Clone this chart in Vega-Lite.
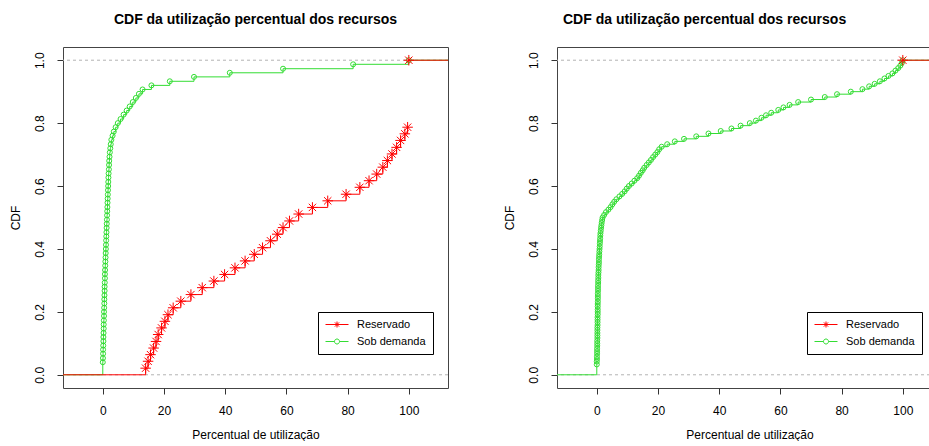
{
  "$schema": "https://vega.github.io/schema/vega-lite/v6.json",
  "background": "white",
  "padding": {"left": 8, "top": 12, "right": 0, "bottom": 0},
  "spacing": 53,
  "config": {
    "view": {"stroke": "#444", "strokeWidth": 1},
    "font": "Liberation Sans",
    "axis": {"domain": false, "grid": false, "tickColor": "#333", "tickSize": 6, "labelFont": "Liberation Sans", "labelFontSize": 12, "labelColor": "black", "titleFont": "Liberation Sans", "titleFontSize": 12, "titleFontWeight": "normal", "titleColor": "black", "labelPadding": 11},
    "title": {"font": "Liberation Sans", "fontSize": 14, "fontWeight": "bold", "color": "black", "offset": 20, "frame": "group"}
  },
  "resolve": {"scale": {"color": "independent"}, "legend": {"color": "independent"}},
  "datasets": {
    "left": [
      {"s": "Sob demanda", "x": -20, "y": 0, "ext": 1},
      {"s": "Sob demanda", "x": 0.0, "y": 0.040}, {"s": "Sob demanda", "x": 0.05, "y": 0.053}, {"s": "Sob demanda", "x": 0.1, "y": 0.067}, {"s": "Sob demanda", "x": 0.1, "y": 0.080},
      {"s": "Sob demanda", "x": 0.15, "y": 0.093}, {"s": "Sob demanda", "x": 0.2, "y": 0.107}, {"s": "Sob demanda", "x": 0.2, "y": 0.120}, {"s": "Sob demanda", "x": 0.25, "y": 0.133},
      {"s": "Sob demanda", "x": 0.3, "y": 0.147}, {"s": "Sob demanda", "x": 0.3, "y": 0.160}, {"s": "Sob demanda", "x": 0.35, "y": 0.173}, {"s": "Sob demanda", "x": 0.4, "y": 0.187},
      {"s": "Sob demanda", "x": 0.4, "y": 0.200}, {"s": "Sob demanda", "x": 0.45, "y": 0.213}, {"s": "Sob demanda", "x": 0.5, "y": 0.227}, {"s": "Sob demanda", "x": 0.5, "y": 0.240},
      {"s": "Sob demanda", "x": 0.55, "y": 0.253}, {"s": "Sob demanda", "x": 0.6, "y": 0.267}, {"s": "Sob demanda", "x": 0.6, "y": 0.280}, {"s": "Sob demanda", "x": 0.65, "y": 0.293},
      {"s": "Sob demanda", "x": 0.7, "y": 0.307}, {"s": "Sob demanda", "x": 0.7, "y": 0.320}, {"s": "Sob demanda", "x": 0.75, "y": 0.333}, {"s": "Sob demanda", "x": 0.8, "y": 0.347},
      {"s": "Sob demanda", "x": 0.85, "y": 0.360}, {"s": "Sob demanda", "x": 0.9, "y": 0.373}, {"s": "Sob demanda", "x": 0.95, "y": 0.387}, {"s": "Sob demanda", "x": 1.0, "y": 0.400},
      {"s": "Sob demanda", "x": 1.05, "y": 0.413}, {"s": "Sob demanda", "x": 1.1, "y": 0.427}, {"s": "Sob demanda", "x": 1.15, "y": 0.440}, {"s": "Sob demanda", "x": 1.2, "y": 0.453},
      {"s": "Sob demanda", "x": 1.25, "y": 0.467}, {"s": "Sob demanda", "x": 1.3, "y": 0.480}, {"s": "Sob demanda", "x": 1.35, "y": 0.493}, {"s": "Sob demanda", "x": 1.4, "y": 0.507},
      {"s": "Sob demanda", "x": 1.45, "y": 0.520}, {"s": "Sob demanda", "x": 1.5, "y": 0.533}, {"s": "Sob demanda", "x": 1.55, "y": 0.547}, {"s": "Sob demanda", "x": 1.6, "y": 0.560},
      {"s": "Sob demanda", "x": 1.65, "y": 0.573}, {"s": "Sob demanda", "x": 1.7, "y": 0.587}, {"s": "Sob demanda", "x": 1.75, "y": 0.600}, {"s": "Sob demanda", "x": 1.8, "y": 0.613},
      {"s": "Sob demanda", "x": 1.85, "y": 0.627}, {"s": "Sob demanda", "x": 1.9, "y": 0.640}, {"s": "Sob demanda", "x": 2.0, "y": 0.653}, {"s": "Sob demanda", "x": 2.05, "y": 0.667},
      {"s": "Sob demanda", "x": 2.1, "y": 0.680}, {"s": "Sob demanda", "x": 2.2, "y": 0.693}, {"s": "Sob demanda", "x": 2.3, "y": 0.707}, {"s": "Sob demanda", "x": 2.45, "y": 0.720},
      {"s": "Sob demanda", "x": 2.6, "y": 0.733}, {"s": "Sob demanda", "x": 2.8, "y": 0.747}, {"s": "Sob demanda", "x": 3.2, "y": 0.760}, {"s": "Sob demanda", "x": 3.6, "y": 0.773},
      {"s": "Sob demanda", "x": 4.2, "y": 0.787}, {"s": "Sob demanda", "x": 4.9, "y": 0.800}, {"s": "Sob demanda", "x": 5.8, "y": 0.813}, {"s": "Sob demanda", "x": 6.8, "y": 0.827},
      {"s": "Sob demanda", "x": 7.8, "y": 0.840}, {"s": "Sob demanda", "x": 8.8, "y": 0.853}, {"s": "Sob demanda", "x": 9.8, "y": 0.867}, {"s": "Sob demanda", "x": 10.8, "y": 0.880},
      {"s": "Sob demanda", "x": 11.8, "y": 0.893}, {"s": "Sob demanda", "x": 13.0, "y": 0.907}, {"s": "Sob demanda", "x": 15.9, "y": 0.920}, {"s": "Sob demanda", "x": 21.9, "y": 0.933},
      {"s": "Sob demanda", "x": 29.8, "y": 0.947}, {"s": "Sob demanda", "x": 41.5, "y": 0.960}, {"s": "Sob demanda", "x": 58.9, "y": 0.973}, {"s": "Sob demanda", "x": 81.8, "y": 0.987},
      {"s": "Sob demanda", "x": 100, "y": 1.0},
      {"s": "Sob demanda", "x": 120, "y": 1.0, "ext": 1},
      {"s": "Reservado", "x": -20, "y": 0, "ext": 1},
      {"s": "Reservado", "x": 14.0, "y": 0.021}, {"s": "Reservado", "x": 14.8, "y": 0.043}, {"s": "Reservado", "x": 15.6, "y": 0.064}, {"s": "Reservado", "x": 16.6, "y": 0.085},
      {"s": "Reservado", "x": 17.4, "y": 0.106}, {"s": "Reservado", "x": 18.1, "y": 0.128}, {"s": "Reservado", "x": 19.2, "y": 0.149}, {"s": "Reservado", "x": 20.3, "y": 0.170},
      {"s": "Reservado", "x": 21.3, "y": 0.191}, {"s": "Reservado", "x": 23.0, "y": 0.213}, {"s": "Reservado", "x": 25.5, "y": 0.234}, {"s": "Reservado", "x": 28.8, "y": 0.255},
      {"s": "Reservado", "x": 32.5, "y": 0.277}, {"s": "Reservado", "x": 36.3, "y": 0.298}, {"s": "Reservado", "x": 39.8, "y": 0.319}, {"s": "Reservado", "x": 43.2, "y": 0.340},
      {"s": "Reservado", "x": 46.5, "y": 0.362}, {"s": "Reservado", "x": 49.5, "y": 0.383}, {"s": "Reservado", "x": 52.2, "y": 0.404}, {"s": "Reservado", "x": 54.8, "y": 0.426},
      {"s": "Reservado", "x": 57.0, "y": 0.447}, {"s": "Reservado", "x": 58.9, "y": 0.468}, {"s": "Reservado", "x": 61.0, "y": 0.489}, {"s": "Reservado", "x": 64.0, "y": 0.511},
      {"s": "Reservado", "x": 68.5, "y": 0.532}, {"s": "Reservado", "x": 73.5, "y": 0.553}, {"s": "Reservado", "x": 79.5, "y": 0.574}, {"s": "Reservado", "x": 84.0, "y": 0.596},
      {"s": "Reservado", "x": 87.0, "y": 0.617}, {"s": "Reservado", "x": 89.5, "y": 0.638}, {"s": "Reservado", "x": 91.5, "y": 0.660}, {"s": "Reservado", "x": 93.0, "y": 0.681},
      {"s": "Reservado", "x": 94.5, "y": 0.702}, {"s": "Reservado", "x": 96.0, "y": 0.723}, {"s": "Reservado", "x": 97.3, "y": 0.745}, {"s": "Reservado", "x": 98.7, "y": 0.766},
      {"s": "Reservado", "x": 99.6, "y": 0.787},
      {"s": "Reservado", "x": 100, "y": 1.0, "g": 2},
      {"s": "Reservado", "x": 120, "y": 1.0, "ext": 1, "g": 2}
    ],
    "right": [
      {"s": "Sob demanda", "x": -20, "y": 0, "ext": 1},
      {"s": "Sob demanda", "x": 0.0, "y": 0.033}, {"s": "Sob demanda", "x": 0.0, "y": 0.042}, {"s": "Sob demanda", "x": 0.05, "y": 0.050}, {"s": "Sob demanda", "x": 0.05, "y": 0.058},
      {"s": "Sob demanda", "x": 0.1, "y": 0.067}, {"s": "Sob demanda", "x": 0.1, "y": 0.075}, {"s": "Sob demanda", "x": 0.1, "y": 0.083}, {"s": "Sob demanda", "x": 0.15, "y": 0.092},
      {"s": "Sob demanda", "x": 0.15, "y": 0.100}, {"s": "Sob demanda", "x": 0.15, "y": 0.108}, {"s": "Sob demanda", "x": 0.2, "y": 0.117}, {"s": "Sob demanda", "x": 0.2, "y": 0.125},
      {"s": "Sob demanda", "x": 0.2, "y": 0.133}, {"s": "Sob demanda", "x": 0.2, "y": 0.142}, {"s": "Sob demanda", "x": 0.2, "y": 0.150}, {"s": "Sob demanda", "x": 0.25, "y": 0.158},
      {"s": "Sob demanda", "x": 0.25, "y": 0.167}, {"s": "Sob demanda", "x": 0.25, "y": 0.175}, {"s": "Sob demanda", "x": 0.25, "y": 0.183}, {"s": "Sob demanda", "x": 0.3, "y": 0.192},
      {"s": "Sob demanda", "x": 0.3, "y": 0.200}, {"s": "Sob demanda", "x": 0.3, "y": 0.208}, {"s": "Sob demanda", "x": 0.3, "y": 0.217}, {"s": "Sob demanda", "x": 0.3, "y": 0.225},
      {"s": "Sob demanda", "x": 0.35, "y": 0.233}, {"s": "Sob demanda", "x": 0.35, "y": 0.242}, {"s": "Sob demanda", "x": 0.35, "y": 0.250}, {"s": "Sob demanda", "x": 0.35, "y": 0.258},
      {"s": "Sob demanda", "x": 0.4, "y": 0.267}, {"s": "Sob demanda", "x": 0.4, "y": 0.275}, {"s": "Sob demanda", "x": 0.4, "y": 0.283}, {"s": "Sob demanda", "x": 0.45, "y": 0.292},
      {"s": "Sob demanda", "x": 0.45, "y": 0.300}, {"s": "Sob demanda", "x": 0.5, "y": 0.308}, {"s": "Sob demanda", "x": 0.5, "y": 0.317}, {"s": "Sob demanda", "x": 0.55, "y": 0.325},
      {"s": "Sob demanda", "x": 0.6, "y": 0.333}, {"s": "Sob demanda", "x": 0.6, "y": 0.342}, {"s": "Sob demanda", "x": 0.65, "y": 0.350}, {"s": "Sob demanda", "x": 0.7, "y": 0.358},
      {"s": "Sob demanda", "x": 0.7, "y": 0.367}, {"s": "Sob demanda", "x": 0.75, "y": 0.375}, {"s": "Sob demanda", "x": 0.8, "y": 0.383}, {"s": "Sob demanda", "x": 0.85, "y": 0.392},
      {"s": "Sob demanda", "x": 0.9, "y": 0.400}, {"s": "Sob demanda", "x": 0.95, "y": 0.408}, {"s": "Sob demanda", "x": 1.0, "y": 0.417}, {"s": "Sob demanda", "x": 1.05, "y": 0.425},
      {"s": "Sob demanda", "x": 1.1, "y": 0.433}, {"s": "Sob demanda", "x": 1.15, "y": 0.442}, {"s": "Sob demanda", "x": 1.2, "y": 0.450}, {"s": "Sob demanda", "x": 1.3, "y": 0.458},
      {"s": "Sob demanda", "x": 1.4, "y": 0.467}, {"s": "Sob demanda", "x": 1.5, "y": 0.475}, {"s": "Sob demanda", "x": 1.6, "y": 0.483}, {"s": "Sob demanda", "x": 1.75, "y": 0.492},
      {"s": "Sob demanda", "x": 1.9, "y": 0.500}, {"s": "Sob demanda", "x": 2.4, "y": 0.508}, {"s": "Sob demanda", "x": 3.0, "y": 0.517}, {"s": "Sob demanda", "x": 3.8, "y": 0.525},
      {"s": "Sob demanda", "x": 4.5, "y": 0.533}, {"s": "Sob demanda", "x": 5.1, "y": 0.542}, {"s": "Sob demanda", "x": 5.7, "y": 0.550}, {"s": "Sob demanda", "x": 6.4, "y": 0.558},
      {"s": "Sob demanda", "x": 7.4, "y": 0.567}, {"s": "Sob demanda", "x": 8.3, "y": 0.575}, {"s": "Sob demanda", "x": 9.1, "y": 0.583}, {"s": "Sob demanda", "x": 9.8, "y": 0.592},
      {"s": "Sob demanda", "x": 10.5, "y": 0.600}, {"s": "Sob demanda", "x": 11.4, "y": 0.608}, {"s": "Sob demanda", "x": 12.3, "y": 0.617}, {"s": "Sob demanda", "x": 13.2, "y": 0.625},
      {"s": "Sob demanda", "x": 13.8, "y": 0.633}, {"s": "Sob demanda", "x": 14.4, "y": 0.642}, {"s": "Sob demanda", "x": 15.0, "y": 0.650}, {"s": "Sob demanda", "x": 15.5, "y": 0.658},
      {"s": "Sob demanda", "x": 16.3, "y": 0.667}, {"s": "Sob demanda", "x": 17.0, "y": 0.675}, {"s": "Sob demanda", "x": 17.7, "y": 0.683}, {"s": "Sob demanda", "x": 18.4, "y": 0.692},
      {"s": "Sob demanda", "x": 19.1, "y": 0.700}, {"s": "Sob demanda", "x": 19.8, "y": 0.708}, {"s": "Sob demanda", "x": 20.4, "y": 0.717}, {"s": "Sob demanda", "x": 21.2, "y": 0.725},
      {"s": "Sob demanda", "x": 23.0, "y": 0.733}, {"s": "Sob demanda", "x": 25.5, "y": 0.742}, {"s": "Sob demanda", "x": 28.5, "y": 0.750}, {"s": "Sob demanda", "x": 32.5, "y": 0.758},
      {"s": "Sob demanda", "x": 36.5, "y": 0.767}, {"s": "Sob demanda", "x": 40.5, "y": 0.775}, {"s": "Sob demanda", "x": 44.0, "y": 0.783}, {"s": "Sob demanda", "x": 47.0, "y": 0.792},
      {"s": "Sob demanda", "x": 50.0, "y": 0.800}, {"s": "Sob demanda", "x": 52.0, "y": 0.808}, {"s": "Sob demanda", "x": 53.8, "y": 0.817}, {"s": "Sob demanda", "x": 55.3, "y": 0.825},
      {"s": "Sob demanda", "x": 57.0, "y": 0.833}, {"s": "Sob demanda", "x": 59.3, "y": 0.842}, {"s": "Sob demanda", "x": 61.0, "y": 0.850}, {"s": "Sob demanda", "x": 63.0, "y": 0.858},
      {"s": "Sob demanda", "x": 65.8, "y": 0.867}, {"s": "Sob demanda", "x": 70.0, "y": 0.875}, {"s": "Sob demanda", "x": 74.5, "y": 0.883}, {"s": "Sob demanda", "x": 78.5, "y": 0.892},
      {"s": "Sob demanda", "x": 83.0, "y": 0.900}, {"s": "Sob demanda", "x": 86.8, "y": 0.908}, {"s": "Sob demanda", "x": 89.0, "y": 0.917}, {"s": "Sob demanda", "x": 90.8, "y": 0.925},
      {"s": "Sob demanda", "x": 92.5, "y": 0.933}, {"s": "Sob demanda", "x": 94.0, "y": 0.942}, {"s": "Sob demanda", "x": 95.3, "y": 0.950}, {"s": "Sob demanda", "x": 96.6, "y": 0.958},
      {"s": "Sob demanda", "x": 97.6, "y": 0.967}, {"s": "Sob demanda", "x": 98.5, "y": 0.975}, {"s": "Sob demanda", "x": 99.2, "y": 0.983}, {"s": "Sob demanda", "x": 99.7, "y": 0.992},
      {"s": "Sob demanda", "x": 100, "y": 1.0},
      {"s": "Sob demanda", "x": 120, "y": 1.0, "ext": 1},
      {"s": "Reservado", "x": 100, "y": 1.0, "g": 2},
      {"s": "Reservado", "x": 120, "y": 1.0, "ext": 1, "g": 2}
    ]
  },
  "hconcat": [
    {
      "width": 385, "height": 341,
      "data": {"name": "left"},
      "title": {"text": "CDF da utilização percentual dos recursos", "anchor": "middle"},
      "layer": [
        {
          "data": {"values": [{"h": 0}, {"h": 1}]},
          "mark": {"type": "rule", "color": "#b3b3b3", "strokeDash": [3, 3], "strokeWidth": 1},
          "encoding": {"y": {"field": "h", "type": "quantitative"}}
        },
        {
          "mark": {"type": "line", "interpolate": "step-after", "strokeWidth": 1, "clip": true},
          "encoding": {
            "x": {"field": "x", "type": "quantitative", "scale": {"domain": [-13, 112.8], "nice": false, "zero": false}, "axis": {"values": [0, 20, 40, 60, 80, 100], "title": "Percentual de utilização", "titlePadding": 13}},
            "y": {"field": "y", "type": "quantitative", "scale": {"domain": [-0.042, 1.042], "nice": false}, "axis": {"values": [0, 0.2, 0.4, 0.6, 0.8, 1.0], "format": ".1f", "title": "CDF", "labelAngle": 270, "labelAlign": "center", "labelBaseline": "bottom", "titlePadding": 11}},
            "color": {"field": "s", "type": "nominal", "scale": {"domain": ["Reservado", "Sob demanda"], "range": ["#ff0000", "#33dd33"]},
              "legend": {"title": null, "orient": "none", "legendX": 255, "legendY": 265, "strokeColor": "black", "fillColor": "white", "padding": 7, "symbolSize": 100, "labelOffset": 21, "rowPadding": 5, "labelFont": "Liberation Sans", "labelFontSize": 11, "labelColor": "black",
                "encode": {"symbols": {"update": {
                  "shape": {"signal": "datum.value === 'Reservado' ? 'M-1,0H3.6M0.7,0H1.9M1.3,-0.6V0.6M0.88,-0.42L1.72,0.42M0.88,0.42L1.72,-0.42' : 'M-1,0H0.8M1.8,0H3.6M1.8,0A0.5,0.5 0 1 1 0.8,0A0.5,0.5 0 1 1 1.8,0'"},
                  "stroke": {"signal": "datum.value === 'Reservado' ? '#ff0000' : '#33dd33'"},
                  "fill": {"value": "transparent"}, "strokeWidth": {"value": 1}, "opacity": {"value": 1}}}}}},
            "detail": {"field": "g", "type": "nominal"},
            "order": [{"field": "y", "type": "quantitative"}, {"field": "x", "type": "quantitative"}]
          }
        },
        {
          "transform": [{"filter": "!datum.ext && datum.s === 'Sob demanda'"}],
          "mark": {"type": "point", "shape": "circle", "filled": false, "size": 25, "strokeWidth": 1, "color": "#33dd33", "opacity": 1},
          "encoding": {"x": {"field": "x", "type": "quantitative"}, "y": {"field": "y", "type": "quantitative"}}
        },
        {
          "transform": [{"filter": "!datum.ext && datum.s === 'Reservado'"}],
          "mark": {"type": "point", "shape": "M-1,0H1M0,-1V1M-0.7,-0.7L0.7,0.7M-0.7,0.7L0.7,-0.7", "filled": false, "size": 110, "strokeWidth": 1, "color": "#ff0000", "opacity": 1},
          "encoding": {"x": {"field": "x", "type": "quantitative"}, "y": {"field": "y", "type": "quantitative"}}
        }
      ]
    },
    {
      "width": 385, "height": 341,
      "data": {"name": "right"},
      "title": {"text": "CDF da utilização percentual dos recursos", "anchor": "start", "dx": 6},
      "layer": [
        {
          "data": {"values": [{"h": 0}, {"h": 1}]},
          "mark": {"type": "rule", "color": "#b3b3b3", "strokeDash": [3, 3], "strokeWidth": 1},
          "encoding": {"y": {"field": "h", "type": "quantitative"}}
        },
        {
          "mark": {"type": "line", "interpolate": "step-after", "strokeWidth": 1, "clip": true},
          "encoding": {
            "x": {"field": "x", "type": "quantitative", "scale": {"domain": [-13, 112.8], "nice": false, "zero": false}, "axis": {"values": [0, 20, 40, 60, 80, 100], "title": "Percentual de utilização", "titlePadding": 13}},
            "y": {"field": "y", "type": "quantitative", "scale": {"domain": [-0.042, 1.042], "nice": false}, "axis": {"values": [0, 0.2, 0.4, 0.6, 0.8, 1.0], "format": ".1f", "title": "CDF", "labelAngle": 270, "labelAlign": "center", "labelBaseline": "bottom", "titlePadding": 11}},
            "color": {"field": "s", "type": "nominal", "scale": {"domain": ["Reservado", "Sob demanda"], "range": ["#ff0000", "#33dd33"]},
              "legend": {"title": null, "orient": "none", "legendX": 250, "legendY": 265, "strokeColor": "black", "fillColor": "white", "padding": 7, "symbolSize": 100, "labelOffset": 21, "rowPadding": 5, "labelFont": "Liberation Sans", "labelFontSize": 11, "labelColor": "black",
                "encode": {"symbols": {"update": {
                  "shape": {"signal": "datum.value === 'Reservado' ? 'M-1,0H3.6M0.7,0H1.9M1.3,-0.6V0.6M0.88,-0.42L1.72,0.42M0.88,0.42L1.72,-0.42' : 'M-1,0H0.8M1.8,0H3.6M1.8,0A0.5,0.5 0 1 1 0.8,0A0.5,0.5 0 1 1 1.8,0'"},
                  "stroke": {"signal": "datum.value === 'Reservado' ? '#ff0000' : '#33dd33'"},
                  "fill": {"value": "transparent"}, "strokeWidth": {"value": 1}, "opacity": {"value": 1}}}}}},
            "detail": {"field": "g", "type": "nominal"},
            "order": [{"field": "y", "type": "quantitative"}, {"field": "x", "type": "quantitative"}]
          }
        },
        {
          "transform": [{"filter": "!datum.ext && datum.s === 'Sob demanda'"}],
          "mark": {"type": "point", "shape": "circle", "filled": false, "size": 25, "strokeWidth": 1, "color": "#33dd33", "opacity": 1},
          "encoding": {"x": {"field": "x", "type": "quantitative"}, "y": {"field": "y", "type": "quantitative"}}
        },
        {
          "transform": [{"filter": "!datum.ext && datum.s === 'Reservado'"}],
          "mark": {"type": "point", "shape": "M-1,0H1M0,-1V1M-0.7,-0.7L0.7,0.7M-0.7,0.7L0.7,-0.7", "filled": false, "size": 110, "strokeWidth": 1, "color": "#ff0000", "opacity": 1},
          "encoding": {"x": {"field": "x", "type": "quantitative"}, "y": {"field": "y", "type": "quantitative"}}
        }
      ]
    }
  ]
}
